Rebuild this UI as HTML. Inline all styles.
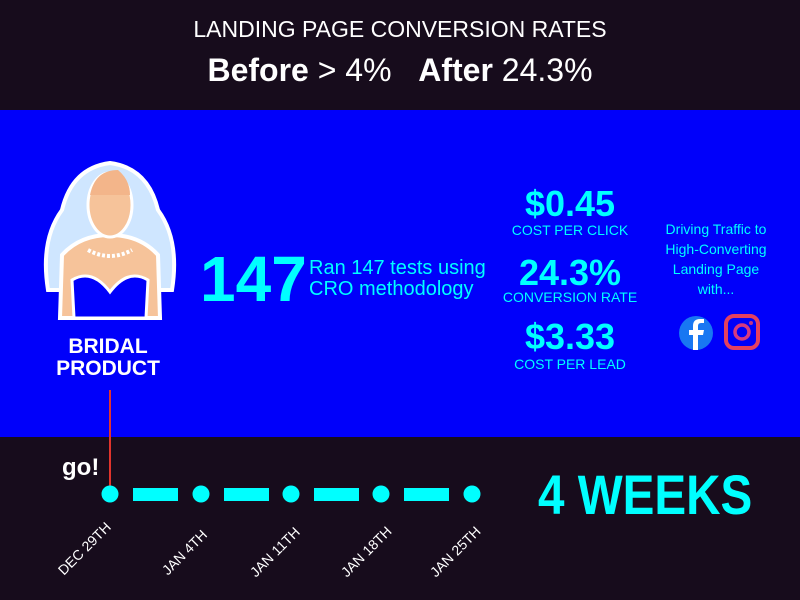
<!DOCTYPE html>
<html><head><meta charset="utf-8"><style>
body{margin:0;width:800px;height:600px;background:#170c1c;position:relative;overflow:hidden;font-family:"Liberation Sans",sans-serif}
.t{position:absolute;white-space:nowrap}
.c{color:#00ffff}
</style></head><body>
<div class="t" style="left:0;width:800px;top:16px;text-align:center;color:#fff;font-size:23px">LANDING PAGE CONVERSION RATES</div>
<div class="t" style="left:0;width:800px;top:52px;text-align:center;color:#fff;font-size:32px"><b>Before</b> &gt; 4% &nbsp; <b>After</b> 24.3%</div>
<div style="position:absolute;left:0;top:110px;width:800px;height:327px;background:#0000fa"></div>
<svg style="position:absolute;left:30px;top:160px" width="160" height="170" viewBox="30 160 160 170">
<path d="M48 290 Q40 240 62 210 Q72 168 110 163 Q148 168 158 210 Q180 240 172 290 Z" fill="#cfe6ff" stroke="#fff" stroke-width="4"/>
<path d="M60 318 L62 255 Q80 235 110 235 Q140 235 158 255 L160 318 Z" fill="#f6c39a" stroke="#fff" stroke-width="4"/>
<path d="M74 318 L72 280 Q92 268 110 292 Q128 268 148 280 L146 318 Z" fill="#0000fa" stroke="#fff" stroke-width="3"/>
<ellipse cx="110" cy="205" rx="22" ry="32" fill="#f6c39a" stroke="#fff" stroke-width="3"/>
<path d="M90 195 Q95 170 118 170 Q130 180 130 195" fill="#f3b58a"/>
<path d="M88 250 Q110 262 132 250" fill="none" stroke="#fff" stroke-width="4" stroke-dasharray="3 2"/>
</svg>
<div class="t" style="left:28px;width:160px;top:336px;text-align:center;color:#fff;font-size:21px;font-weight:bold;line-height:22px">BRIDAL<br>PRODUCT</div>
<div class="t c" style="left:200px;top:242px;font-size:64px;font-weight:bold">147</div>
<div class="t c" style="left:309px;top:258px;font-size:20px;line-height:21px">Ran 147 tests using<br>CRO methodology</div>
<div class="t c" style="left:490px;width:160px;top:183px;text-align:center;font-size:36px;font-weight:bold">$0.45</div>
<div class="t c" style="left:490px;width:160px;top:222px;text-align:center;font-size:14px">COST PER CLICK</div>
<div class="t c" style="left:490px;width:160px;top:252px;text-align:center;font-size:36px;font-weight:bold">24.3%</div>
<div class="t c" style="left:490px;width:160px;top:289px;text-align:center;font-size:14px">CONVERSION RATE</div>
<div class="t c" style="left:490px;width:160px;top:316px;text-align:center;font-size:36px;font-weight:bold">$3.33</div>
<div class="t c" style="left:490px;width:160px;top:356px;text-align:center;font-size:14px">COST PER LEAD</div>
<div class="t c" style="left:636px;width:160px;top:219px;text-align:center;font-size:14px;line-height:20px">Driving Traffic to<br>High-Converting<br>Landing Page<br>with...</div>
<svg style="position:absolute;left:670px;top:310px" width="100" height="46">
<circle cx="26" cy="23" r="17" fill="#1877f2"/>
<path d="M28 40 V25 H33 L34 20 H28 V16 Q28 13 31 13 H34 V9 H30 Q23 9 23 16 V20 H19 V25 H23 V40 Z" fill="#fff"/>
<rect x="56" y="6" width="32" height="32" rx="8" fill="none" stroke="#e4405f" stroke-width="4"/>
<circle cx="72" cy="22" r="7" fill="none" stroke="#d63a80" stroke-width="3.5"/>
<circle cx="81" cy="13" r="2" fill="#c13584"/>
</svg>
<div style="position:absolute;left:109px;top:390px;width:2px;height:97px;background:#e0342c"></div>
<div class="t" style="left:62px;top:454px;color:#fff;font-size:24px;font-weight:bold">go!</div>
<svg style="position:absolute;left:0;top:470px" width="500" height="50">
<g fill="#00ffff">
<circle cx="110" cy="24" r="8.5"/><circle cx="201" cy="24" r="8.5"/><circle cx="291" cy="24" r="8.5"/><circle cx="381" cy="24" r="8.5"/><circle cx="472" cy="24" r="8.5"/>
<rect x="133" y="18" width="45" height="13"/><rect x="224" y="18" width="45" height="13"/><rect x="314" y="18" width="45" height="13"/><rect x="404" y="18" width="45" height="13"/>
</g></svg>
<div class="t" style="left:538px;top:462px;color:#00ffff;font-size:56px;font-weight:bold;transform:scaleX(0.85);transform-origin:left top">4 WEEKS</div>
<div class="t" style="left:66px;top:562px;color:#fff;font-size:14px;transform:rotate(-45deg);transform-origin:left bottom">DEC 29TH</div>
<div class="t" style="left:170px;top:562px;color:#fff;font-size:14px;transform:rotate(-45deg);transform-origin:left bottom">JAN 4TH</div>
<div class="t" style="left:258px;top:564px;color:#fff;font-size:14px;transform:rotate(-45deg);transform-origin:left bottom">JAN 11TH</div>
<div class="t" style="left:349px;top:564px;color:#fff;font-size:14px;transform:rotate(-45deg);transform-origin:left bottom">JAN 18TH</div>
<div class="t" style="left:438px;top:564px;color:#fff;font-size:14px;transform:rotate(-45deg);transform-origin:left bottom">JAN 25TH</div>
</body></html>
